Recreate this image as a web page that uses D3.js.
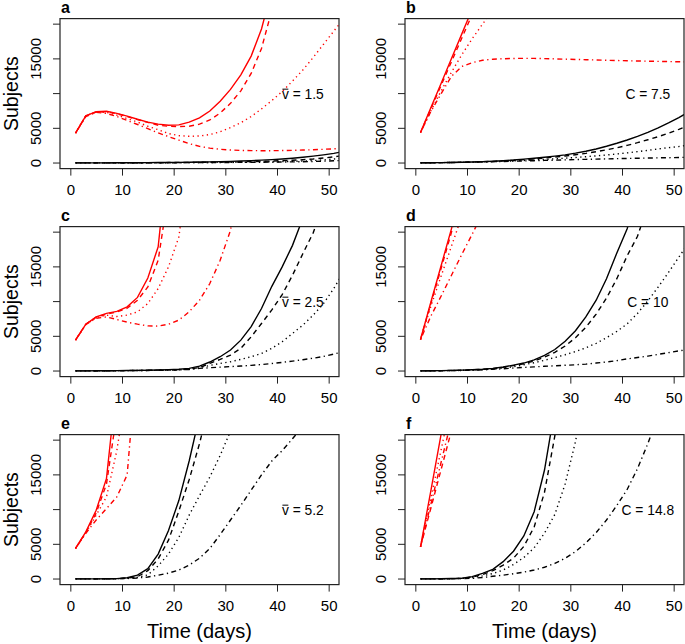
<!DOCTYPE html>
<html>
<head>
<meta charset="utf-8">
<script src="https://cdn.jsdelivr.net/npm/d3@7"></script>
<style>
    body { margin: 0; background: #fff; }
    svg { display: block; font-family: "Liberation Sans", Arial, sans-serif; }
</style>
</head>
<body>
<div id="chart"></div>
<script>
    // days sampled every second day, series may stop once they leave the plot
    const days = [1, 3, 5, 7, 9, 11, 13, 15, 17, 19, 21, 23, 25, 27, 29, 31, 33, 35, 37, 39, 41, 43, 45, 47, 49, 51, 53];

    const xTicks = [0, 10, 20, 30, 40, 50];
    const yTicks = [0, 5000, 10000, 15000, 20000];
    const yTickLabels = ["0", "5000", "", "15000", ""];

    const panelLetters = ["a", "b", "c", "d", "e", "f"];
    const annotationNames = ["v", "C", "v", "C", "v", "C"];
    const annotationValues = ["1.5", "7.5", "2.5", "10", "5.2", "14.8"];

    // each group: solid, dashed, dotted, dot-dash
    const redA = [
        [4300, 6800, 7400, 7450, 7150, 6750, 6300, 5900, 5600, 5450, 5500, 5900, 6500, 7500, 8900, 10600, 12700, 15400, 19300, 25000],
        [4300, 6800, 7350, 7400, 7100, 6700, 6250, 5850, 5450, 5300, 5250, 5300, 5600, 6200, 7200, 8600, 10400, 12900, 16500, 22000],
        [4300, 6800, 7350, 7300, 6900, 6400, 5900, 5300, 4800, 4250, 3950, 3850, 3900, 4100, 4500, 5100, 5800, 6700, 7800, 9000, 10300, 11800, 13400, 15200, 17100, 19000, 20900],
        [4300, 6700, 7300, 7150, 6700, 6150, 5550, 4950, 4350, 3800, 3300, 2800, 2400, 2150, 1980, 1880, 1820, 1790, 1780, 1780, 1800, 1830, 1870, 1920, 1980, 2050, 2130]
    ];
    const blackA = [
        [18, 21, 25, 30, 36, 43, 51, 61, 72, 86, 103, 122, 146, 174, 207, 246, 293, 349, 415, 494, 588, 700, 833, 992, 1180, 1400, 1670],
        [18, 21, 24, 28, 33, 38, 44, 51, 59, 68, 79, 91, 105, 121, 140, 162, 187, 216, 250, 290, 340, 400, 480, 580, 720, 900, 1100],
        [18, 20, 23, 26, 29, 33, 37, 42, 47, 53, 60, 67, 75, 84, 94, 105, 118, 132, 150, 172, 200, 240, 290, 360, 450, 580, 720],
        [18, 20, 22, 24, 27, 30, 33, 37, 41, 46, 51, 57, 63, 70, 78, 87, 97, 108, 120, 134, 150, 170, 195, 225, 265, 320, 390]
    ];

    const redB = [
        [4400, 7950, 11500, 15050, 18600, 22150],
        [4400, 7800, 11200, 14600, 18000, 21400],
        [4400, 7500, 10400, 13100, 15600, 17900, 20000, 22000],
        [4400, 7400, 10000, 12500, 13900, 14450, 14800, 14950, 15020, 15060, 15080, 15070, 15040, 15000, 14960, 14920, 14880, 14840, 14800, 14760, 14730, 14700, 14670, 14640, 14610, 14580, 14560]
    ];
    const blackB = [
        [30, 45, 60, 80, 110, 150, 200, 260, 340, 430, 560, 690, 830, 990, 1180, 1420, 1700, 2030, 2420, 2850, 3320, 3850, 4430, 5070, 5780, 6550, 7400],
        [30, 45, 60, 80, 105, 140, 185, 240, 310, 390, 490, 600, 720, 860, 1020, 1200, 1400, 1640, 1900, 2200, 2550, 2930, 3350, 3800, 4300, 4850, 5450],
        [30, 45, 60, 80, 100, 130, 165, 205, 255, 310, 370, 440, 520, 610, 700, 800, 910, 1030, 1160, 1310, 1470, 1640, 1830, 2030, 2220, 2380, 2600],
        [30, 45, 60, 80, 105, 130, 160, 190, 225, 260, 300, 340, 380, 420, 460, 500, 535, 570, 600, 630, 660, 690, 720, 745, 770, 800, 830]
    ];

    const redC = [
        [4450, 6750, 7800, 8300, 8600, 9250, 10600, 13400, 17900, 32000],
        [4450, 6750, 7750, 8200, 8500, 9050, 10200, 12100, 15950, 25700],
        [4450, 6700, 7700, 8050, 7850, 8050, 8530, 9720, 11880, 15000, 19300, 30000],
        [4450, 6700, 7600, 7800, 7420, 7040, 6750, 6500, 6470, 6750, 7330, 8530, 10200, 12600, 15950, 20260, 29000]
    ];
    const blackC = [
        [20, 30, 40, 50, 65, 80, 100, 125, 160, 200, 260, 380, 700, 1300, 2060, 3020, 4450, 6400, 9000, 12200, 15000, 18100, 22000],
        [20, 28, 36, 45, 55, 68, 85, 105, 130, 165, 210, 290, 500, 1100, 1680, 2300, 3260, 4930, 6850, 8800, 11000, 13800, 16900, 19900, 24000],
        [20, 27, 34, 42, 52, 63, 76, 92, 110, 135, 170, 240, 500, 800, 1100, 1340, 1680, 2060, 2540, 3260, 4220, 5410, 6610, 8050, 9720, 11900, 14400],
        [20, 27, 34, 42, 50, 60, 72, 86, 100, 120, 150, 230, 380, 480, 560, 640, 720, 820, 940, 1080, 1250, 1430, 1630, 1850, 2100, 2450, 2800]
    ];

    const redD = [
        [4550, 9900, 15200, 20500, 25800],
        [4550, 9700, 14800, 20000, 25200],
        [4550, 9300, 13700, 18000, 22300],
        [4550, 7900, 10800, 13800, 16800, 19700, 22700]
    ];
    const blackD = [
        [20, 40, 60, 90, 130, 180, 260, 380, 580, 850, 1150, 1600, 2250, 3100, 4300, 5800, 7800, 10200, 13300, 17000, 20500, 25500],
        [20, 40, 60, 85, 120, 170, 240, 350, 530, 780, 1050, 1450, 2000, 2700, 3600, 4800, 6300, 8200, 10500, 13300, 16600, 19400, 23800],
        [20, 35, 50, 70, 100, 140, 200, 290, 420, 620, 900, 1200, 1550, 1950, 2350, 2800, 3350, 4000, 4800, 5700, 6800, 8300, 10100, 12100, 14200, 16400, 18600],
        [20, 30, 45, 65, 90, 130, 180, 250, 330, 430, 520, 600, 680, 760, 830, 900, 1000, 1150, 1300, 1500, 1750, 1950, 2150, 2400, 2650, 2900, 3100]
    ];

    const redE = [
        [4400, 6800, 9900, 14500, 28500],
        [4400, 6700, 9500, 13700, 23800],
        [4400, 6650, 9200, 11830, 18500, 28000],
        [4400, 6600, 8500, 10150, 11830, 15000, 33000]
    ];
    const blackE = [
        [20, 25, 30, 40, 60, 190, 570, 1500, 3600, 7000, 11300, 17000, 23500],
        [20, 25, 30, 38, 55, 150, 340, 1200, 2900, 5600, 9800, 14300, 19500, 25500],
        [20, 24, 28, 35, 50, 120, 250, 600, 1900, 3600, 6000, 9200, 12000, 14700, 17800, 21300],
        [20, 24, 28, 34, 45, 80, 150, 300, 550, 850, 1300, 2000, 3000, 4400, 6400, 8500, 10600, 12800, 15000, 17000, 18500, 20200, 22000]
    ];

    const redF = [
        [4650, 12700, 20900, 28900],
        [4650, 10200, 15800, 21400],
        [4650, 11650, 18650, 25650],
        [4650, 10750, 16850, 22950]
    ];
    const blackF = [
        [20, 30, 45, 70, 120, 340, 810, 1400, 2500, 4000, 6200, 9700, 15700, 24500],
        [20, 28, 40, 60, 100, 280, 650, 1200, 2000, 3000, 4700, 7500, 12500, 20600, 30000],
        [20, 26, 35, 50, 80, 200, 450, 800, 1300, 2100, 3100, 4500, 6600, 9300, 13700, 19800, 28000],
        [20, 26, 33, 45, 65, 100, 220, 400, 560, 760, 1000, 1300, 1700, 2250, 3000, 3950, 5200, 6700, 8500, 10600, 12900, 15900, 19500, 23500]
    ];

    const redGroups = [redA, redB, redC, redD, redE, redF];
    const blackGroups = [blackA, blackB, blackC, blackD, blackE, blackF];

    const width = 685, height = 644;
    const colLeft = [60, 405];
    const rowTop = [18.6, 226.6, 434.6];
    const plotW = 279, plotH = 150;
    const dashes = [null, "5,4", "1.3,3.4", "1.3,3.4,5,3.4"];

    const svg = d3.select("#chart")
        .append("svg")
        .attr("width", width)
        .attr("height", height);

    function drawPanel(i) {
        const left = colLeft[i % 2];
        const top = rowTop[Math.floor(i / 2)];
        const bottom = top + plotH;

        const x = d3.scaleLinear().domain([-2, 52]).range([left, left + plotW]);
        const y = d3.scaleLinear().domain([-800, 20800]).range([bottom, top]);

        const g = svg.append("g");

        g.append("clipPath")
            .attr("id", "clip-" + i)
            .append("rect")
            .attr("x", left)
            .attr("y", top)
            .attr("width", plotW)
            .attr("height", plotH);

        const line = d3.line()
            .x((v, k) => x(days[k]))
            .y(v => y(v));

        const curves = g.append("g").attr("clip-path", `url(#clip-${i})`);

        // black first, red on top
        [[blackGroups[i], "#000"], [redGroups[i], "#ff0000"]].forEach(([group, colour]) => {
            group.forEach((values, k) => {
                curves.append("path")
                    .attr("d", line(values))
                    .attr("fill", "none")
                    .attr("stroke", colour)
                    .attr("stroke-width", 1.4)
                    .attr("stroke-dasharray", dashes[k]);
            });
        });

        // box
        g.append("rect")
            .attr("x", left)
            .attr("y", top)
            .attr("width", plotW)
            .attr("height", plotH)
            .attr("fill", "none")
            .attr("stroke", "#222")
            .attr("stroke-width", 1.2);

        // x axis
        const xAxis = g.append("g").attr("transform", `translate(0,${bottom})`)
            .call(d3.axisBottom(x).tickValues(xTicks).tickSize(7).tickPadding(9).tickSizeOuter(0));
        xAxis.select(".domain").remove();
        xAxis.selectAll("text").attr("font-size", 15).attr("fill", "#000")
            .attr("font-family", '"Liberation Sans", Arial, sans-serif');
        xAxis.selectAll("line").attr("stroke", "#222");

        // y axis, vertical labels like base R
        const yAxis = g.append("g").attr("transform", `translate(${left},0)`)
            .call(d3.axisLeft(y).tickValues(yTicks).tickSize(7).tickFormat((d, k) => yTickLabels[k]).tickSizeOuter(0));
        yAxis.select(".domain").remove();
        yAxis.selectAll("line").attr("stroke", "#222");
        yAxis.selectAll("text")
            .attr("font-size", 15)
            .attr("fill", "#000")
            .attr("font-family", '"Liberation Sans", Arial, sans-serif')
            .attr("x", null)
            .attr("dy", null)
            .attr("text-anchor", "middle")
            .attr("transform", d => `translate(-19,${y(d)}) rotate(-90)`)
            .attr("y", 0);
        yAxis.selectAll(".tick").attr("transform", null);
        yAxis.selectAll(".tick line").attr("transform", d => `translate(0,${y(d)})`);

        // panel letter
        g.append("text")
            .attr("x", left + 1)
            .attr("y", top - 5.6)
            .attr("font-size", 16)
            .attr("font-weight", "bold")
            .text(panelLetters[i]);

        // annotation, v gets a bar over it
        const fs = 13.8;
        const ann = g.append("text")
            .attr("x", x(45))
            .attr("y", y(10000) + 5.5)
            .attr("font-size", fs)
            .attr("text-anchor", "middle");
        ann.append("tspan").text(annotationNames[i]);
        ann.append("tspan").text(" = " + annotationValues[i]);
        if (annotationNames[i] === "v") {
            const box = ann.node().getExtentOfChar(0);
            const by = y(10000) + 5.5 - 0.72 * fs;
            g.append("line")
                .attr("x1", box.x + 0.5)
                .attr("x2", box.x + box.width - 0.5)
                .attr("y1", by)
                .attr("y2", by)
                .attr("stroke", "#000")
                .attr("stroke-width", 1);
        }

        if (i % 2 === 0) {
            g.append("text")
                .attr("transform", `translate(18,${top + plotH / 2}) rotate(-90)`)
                .attr("text-anchor", "middle")
                .attr("font-size", 19.5)
                .text("Subjects");
        }
        if (i >= 4) {
            g.append("text")
                .attr("x", left + plotW / 2)
                .attr("y", bottom + 53)
                .attr("text-anchor", "middle")
                .attr("font-size", 20)
                .text("Time (days)");
        }
    }

    panelLetters.forEach((p, i) => drawPanel(i));
</script>
</body>
</html>
